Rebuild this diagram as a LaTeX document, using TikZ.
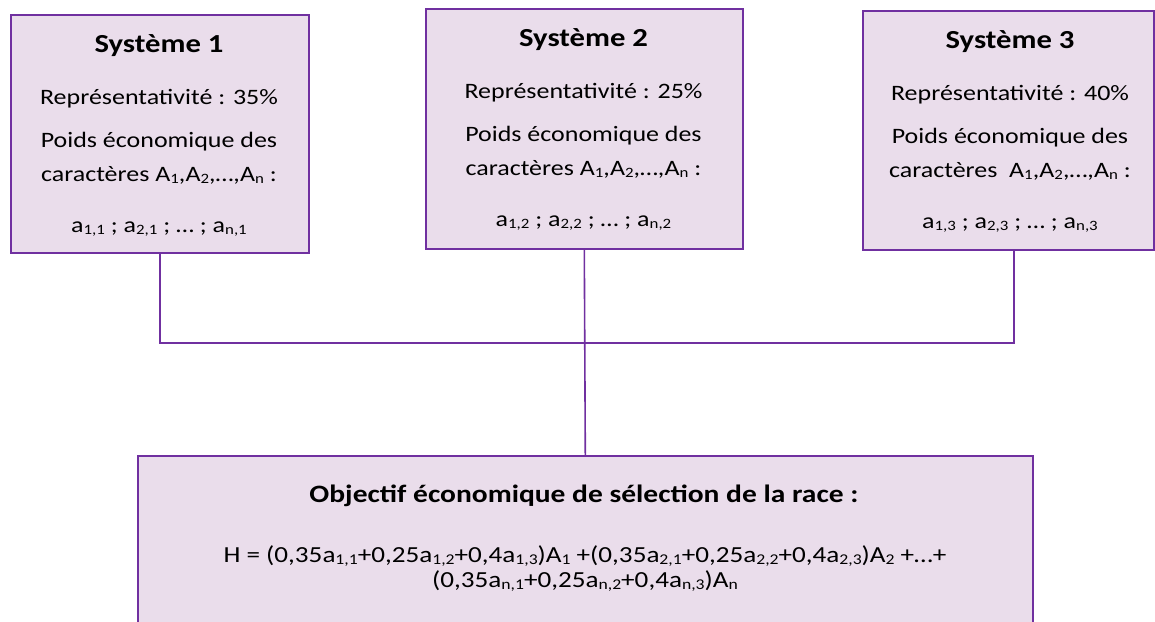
\documentclass[tikz,border=0pt]{standalone}
\usepackage{fontspec}
\setmainfont{Carlito}[FakeStretch=1.18]
\definecolor{boxline}{HTML}{7030A0}
\definecolor{boxfill}{HTML}{EADDEB}
% subscript index, set small and slightly lowered
\newcommand\ix[1]{\raisebox{-0.12em}{\scalebox{0.65}{#1}}}
\begin{document}
\begin{tikzpicture}[x=1pt,y=-1pt,
  box/.style={draw=boxline,fill=boxfill,line width=1.6pt,inner sep=0pt,anchor=north west},
  conn/.style={draw=boxline,line width=1.6pt},
  body/.style={anchor=base,inner sep=0pt,font=\fontsize{22}{26}\selectfont},
  ttl/.style={anchor=base,inner sep=0pt,font=\fontsize{26}{30}\selectfont\bfseries},
  big/.style={anchor=base,inner sep=0pt,font=\fontsize{25}{30}\selectfont\bfseries},
  formula/.style={anchor=base,inner sep=0pt,font=\fontsize{23}{26}\selectfont}]
\useasboundingbox (0,0) rectangle (1155,621);

% the three production systems
\node[box,minimum width=298pt,minimum height=238pt] (b1) at (10,14) {};
\node[box,minimum width=317pt,minimum height=240pt] (b2) at (425,8) {};
\node[box,minimum width=291pt,minimum height=239pt] (b3) at (862,10) {};

% breeding objective
\node[box,minimum width=895pt,minimum height=200pt] (obj) at (137,455) {};

% connectors
\coordinate (b3port) at ([xshift=5.5pt]b3.south);
\coordinate (j) at (obj.north |- 0,343);
\draw[conn] (b1.south) |- (j);
\draw[conn] (b3port) |- (j);
\draw[conn] (b2.south) -- (obj.north);

% system 1
\node[ttl]  (s1t) at (159,52)  {Système 1};
\node[body] (s1r) at (159,104) {Représentativité : 35\%};
\node[body] (s1p) at (159,147) {Poids économique des};
\node[body] (s1c) at (159,181) {caractères A\ix{1},A\ix{2},…,A\ix{n} :};
\node[body] (s1a) at (159,232) {a\ix{1,1} ; a\ix{2,1} ; … ; a\ix{n,1}};

% system 2
\node[ttl]  (s2t) at (583.5,46)  {Système 2};
\node[body] (s2r) at (583.5,98)  {Représentativité : 25\%};
\node[body] (s2p) at (583.5,141) {Poids économique des};
\node[body] (s2c) at (583.5,175) {caractères A\ix{1},A\ix{2},…,A\ix{n} :};
\node[body] (s2a) at (583.5,226) {a\ix{1,2} ; a\ix{2,2} ; … ; a\ix{n,2}};

% system 3
\node[ttl]  (s3t) at (1010,48)  {Système 3};
\node[body] (s3r) at (1010,100) {Représentativité : 40\%};
\node[body] (s3p) at (1010,143) {Poids économique des};
\node[body] (s3c) at (1010,177) {caractères \ A\ix{1},A\ix{2},…,A\ix{n} :};
\node[body] (s3a) at (1010,228) {a\ix{1,3} ; a\ix{2,3} ; … ; a\ix{n,3}};

% objective text
\node[big] (ot) at (584,502) {Objectif économique de sélection de la race :};
\node[formula] (f1) at (585,562) {H = (0,35a\ix{1,1}+0,25a\ix{1,2}+0,4a\ix{1,3})A\ix{1} +(0,35a\ix{2,1}+0,25a\ix{2,2}+0,4a\ix{2,3})A\ix{2} +…+};
\node[formula] (f2) at (585,587) {(0,35a\ix{n,1}+0,25a\ix{n,2}+0,4a\ix{n,3})A\ix{n}};
\end{tikzpicture}
\end{document}
